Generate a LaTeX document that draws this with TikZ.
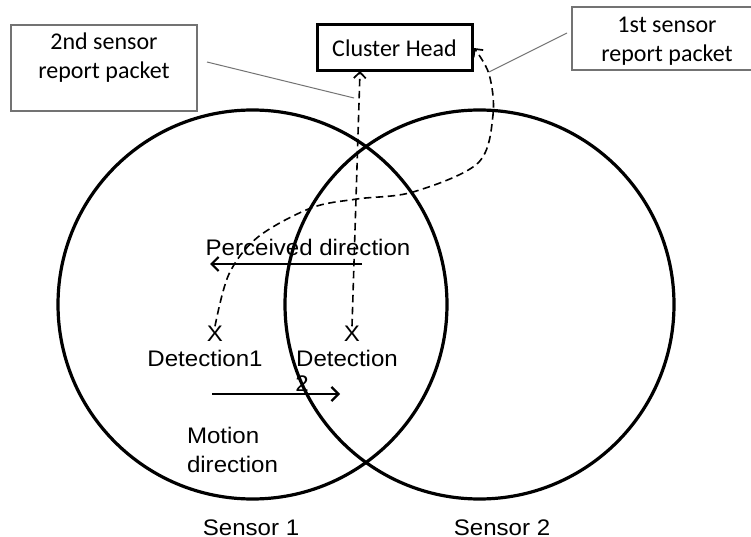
\documentclass[tikz,border=0pt]{standalone}
\usepackage{fontspec}
\setmainfont[FakeStretch=1.07]{Liberation Sans}
\newfontfamily\calib{Carlito}
\usetikzlibrary{arrows.meta}
\begin{document}
\begin{tikzpicture}[x=1pt,y=-1pt,
  every node/.style={inner sep=0pt, outer sep=0pt},
  lbl/.style={font=\fontsize{22.5}{29}\selectfont, align=center},
  boxtxt/.style={font=\calib\fontsize{24}{29}\selectfont, align=center},
  headbox/.style={draw, line width=3pt, minimum width=155, minimum height=46, font=\calib\fontsize{24}{29}\selectfont},
  graybox/.style={draw=black!55, line width=1.1pt, fill=white},
  leader/.style={draw=black!55, line width=1pt},
  ring/.style={draw, line width=3.2pt},
  packet/.style={line width=1.6pt, dash pattern=on 7.5pt off 4.5pt, -{Straight Barb[length=6pt,width=12pt,line width=1.7pt]}},
  motion/.style={line width=2.2pt, -{Straight Barb[length=7pt,width=14pt,line width=2.2pt]}},
  xmark/.style={font=\fontsize{22.5}{29}\selectfont}
]
\clip (0,0) rectangle (751,537);
\fill[white] (0,0) rectangle (751,537);

% text labels inside the sensing ranges
\node[lbl] (perc) at (308,247) {Perceived direction};
\node[xmark] (d1x) at (215,334) {X};
\node[xmark] (d2x) at (352,334) {X};
\node[lbl] (det1) at (205,358) {Detection1};
\node[lbl] (det2) at (347,358) {Detection};
\node[lbl] (det2b) at (302,384) {2};
\node[lbl, align=left, anchor=west] (mot) at (187,450) {Motion\\direction};
\node[lbl, anchor=base] (s1) at (251,535) {Sensor 1};
\node[lbl, anchor=base] (s2) at (502,535) {Sensor 2};

% sensing ranges of the two sensors
\node[ring, circle, minimum size=389] (c1) at (252.5,304.5) {};
\node[ring, circle, minimum size=389] (c2) at (479.5,304.5) {};

% cluster head and packet call-outs
\node[headbox] (ch) at (394.5,48) {Cluster Head};
\node[graybox, minimum width=186, minimum height=86] (b2) at (104,68) {};
\node[boxtxt] (b2t) at (104,57.5) {2nd sensor\\report packet};
\node[graybox, minimum width=190, minimum height=63] (b1) at (667,38.5) {};
\node[boxtxt] (b1t) at (667,41.5) {1st sensor\\report packet};

% direction arrows
\coordinate (pa) at (362,264);
\coordinate (pb) at (210,264);
\draw[motion] (pa) -- (pb);
\coordinate (ma) at (212,394);
\coordinate (mb) at (340,394);
\draw[motion] (ma) -- (mb);

% report packets travelling to the cluster head
\draw[packet] (d2x.north) -- ([xshift=43pt]ch.south west);
\draw[packet] plot[smooth, tension=0.55] coordinates {(d1x.north) (229,274) (258,237) (311,208) (357,199) (413,192) (478,163) (493,115) (489,74) ([xshift=2pt]ch.east)};

% leader lines of the call-outs
\coordinate (l2a) at (207,62);
\coordinate (l2b) at (354,98);
\draw[leader] (l2a) -- (l2b);
\coordinate (l1a) at (567,33);
\coordinate (l1b) at (489,72);
\draw[leader] (l1a) -- (l1b);
\end{tikzpicture}
\end{document}
